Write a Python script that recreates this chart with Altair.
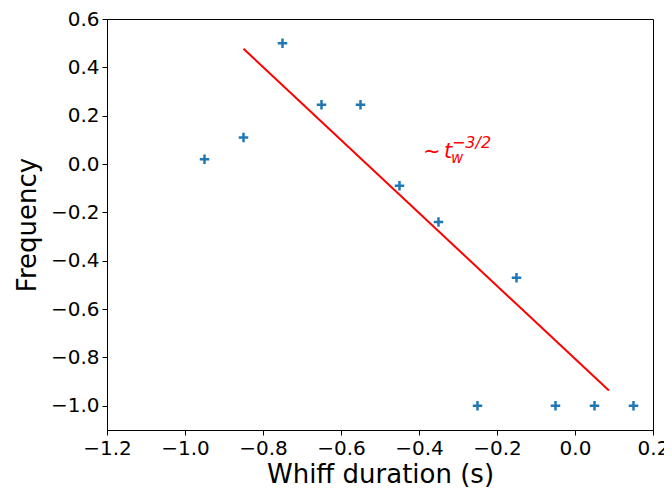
import altair as alt
import pandas as pd

x_vals = [-0.95, -0.85, -0.75, -0.65, -0.55, -0.45, -0.35, -0.25, -0.15, -0.05, 0.05, 0.15]
y_vals = [0.02, 0.11, 0.50, 0.245, 0.245, -0.09, -0.24, -1.0, -0.47, -1.0, -1.0, -1.0]

fit_x = [-0.85, 0.087]
fit_y = [0.477, -0.937]

x_ticks = [-1.2, -1.0, -0.8, -0.6, -0.4, -0.2, 0.0, 0.2]
y_ticks = [-1.0, -0.8, -0.6, -0.4, -0.2, 0.0, 0.2, 0.4, 0.6]

ann_x = [-0.39]
ann_y = [0.025]

pts = pd.DataFrame({"x": x_vals, "y": y_vals})
fit = pd.DataFrame({"x": fit_x, "y": fit_y})
ann = pd.DataFrame({"x": ann_x, "y": ann_y})

FONT = "DejaVu Sans"
xs = alt.Scale(domain=[-1.2, 0.2], nice=False, zero=False)
ys = alt.Scale(domain=[-1.1, 0.6], nice=False, zero=False)

xax = alt.Axis(values=x_ticks, format=".1f", title="Whiff duration (s)", grid=False,
               labelFontSize=20, titleFontSize=26, labelFont=FONT, titleFont=FONT,
               tickSize=5, tickColor="black", domainColor="black", labelColor="black",
               titleColor="black", labelPadding=3, titlePadding=3, titleFontWeight="normal",
               labelFlush=False, labelOverlap=False)
yax = alt.Axis(values=y_ticks, format=".1f", title="Frequency", grid=False,
               labelFontSize=20, titleFontSize=26, labelFont=FONT, titleFont=FONT,
               tickSize=5, tickColor="black", domainColor="black", labelColor="black",
               titleColor="black", labelPadding=3, titlePadding=10, titleFontWeight="normal",
               labelFlush=False, labelOverlap=False)

points = alt.Chart(pts).mark_point(
    shape="M-1,0L1,0M0,-1L0,1", filled=False, size=90, strokeWidth=2.5,
    color="#1f77b4", opacity=1
).encode(x=alt.X("x:Q", scale=xs, axis=xax), y=alt.Y("y:Q", scale=ys, axis=yax))

line = alt.Chart(fit).mark_line(color="red", strokeWidth=2).encode(
    x=alt.X("x:Q", scale=xs), y=alt.Y("y:Q", scale=ys))

base = alt.Chart(ann).encode(x=alt.X("x:Q", scale=xs), y=alt.Y("y:Q", scale=ys))
t1 = base.mark_text(text="~", font=FONT, fontSize=21, color="red", align="left", baseline="alphabetic", dy=0)
t2 = base.mark_text(text="t", font=FONT, fontSize=21, fontStyle="italic", color="red", align="left", baseline="alphabetic", dx=21)
t3 = base.mark_text(text="w", font=FONT, fontSize=15, fontStyle="italic", color="red", align="left", baseline="alphabetic", dx=28, dy=5)
t4 = base.mark_text(text="−3/2", font=FONT, fontSize=16, fontStyle="italic", color="red", align="left", baseline="alphabetic", dx=29, dy=-10)

chart = alt.layer(points, line, t1, t2, t3, t4).properties(
    width=546, height=411,
    autosize=alt.AutoSizeParams(type="none"),
    padding={"left": 99, "top": 11, "right": 11, "bottom": 57}
).configure_view(stroke="black", strokeWidth=1)

chart.save("out.html", embed_options={"renderer": "svg", "actions": False})
